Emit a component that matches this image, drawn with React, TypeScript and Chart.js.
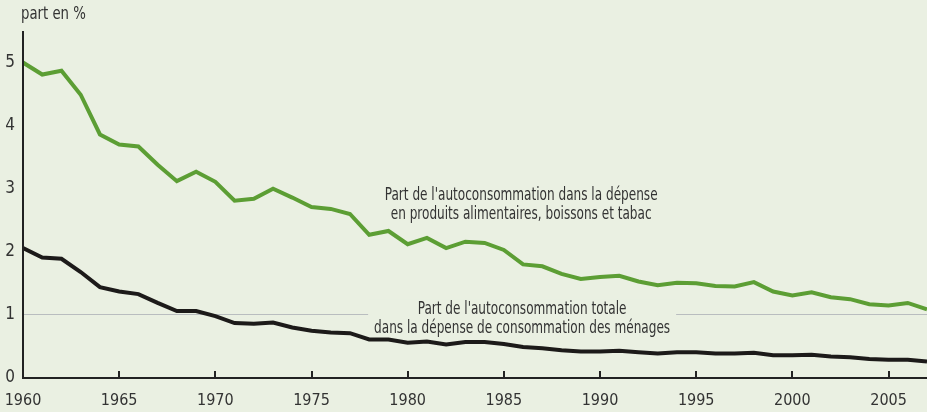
import React, { useEffect, useRef } from "react";
import { Chart, registerables } from "chart.js";

Chart.register(...registerables);

const years: number[] = [];
for (let y = 1960; y <= 2007; y++) years.push(y);

const alimentaire = [
  5.0, 4.81, 4.87, 4.49, 3.86, 3.7, 3.67, 3.38, 3.12, 3.27,
  3.11, 2.81, 2.84, 3.0, 2.86, 2.71, 2.68, 2.6, 2.27, 2.33,
  2.12, 2.22, 2.06, 2.16, 2.14, 2.03, 1.8, 1.77, 1.65, 1.57,
  1.6, 1.62, 1.53, 1.47, 1.51, 1.5, 1.46, 1.45, 1.52, 1.37,
  1.31, 1.36, 1.28, 1.25, 1.17, 1.15, 1.19, 1.09,
];

const totale = [
  2.06, 1.91, 1.89, 1.68, 1.44, 1.37, 1.33, 1.19, 1.06, 1.06,
  0.98, 0.87, 0.86, 0.88, 0.8, 0.75, 0.72, 0.71, 0.61, 0.61,
  0.56, 0.58, 0.53, 0.57, 0.57, 0.54, 0.49, 0.47, 0.44, 0.42,
  0.42, 0.43, 0.41, 0.39, 0.41, 0.41, 0.39, 0.39, 0.4, 0.36,
  0.36, 0.37, 0.34, 0.33, 0.3, 0.29, 0.29, 0.26,
];

const xTicks = [1960, 1965, 1970, 1975, 1980, 1985, 1990, 1995, 2000, 2005];
const yTicks = [0, 1, 2, 3, 4, 5];

const unitLabel = "part en %";
const labelAlim = ["Part de l'autoconsommation dans la dépense", "en produits alimentaires, boissons et tabac"];
const labelTot = ["Part de l'autoconsommation totale", "dans la dépense de consommation des ménages"];

const BG = "#eaf0e2";
const FONT = "'Liberation Sans Narrow', 'DejaVu Sans Condensed', 'Arial Narrow', sans-serif";
const TEXT = "#333333";

function narrowText(ctx: any, text: string, x: number, y: number, sx: number) {
  ctx.save();
  ctx.translate(x, y);
  ctx.scale(sx, 1);
  ctx.fillText(text, 0, 0);
  ctx.restore();
}

export default function App() {
  const ref = useRef<HTMLCanvasElement | null>(null);

  useEffect(() => {
    document.body.style.margin = "0";
    document.body.style.background = BG;
    const canvas = ref.current;
    if (!canvas) return;

    const decor = {
      id: "decor",
      beforeDraw(chart: any) {
        const { ctx } = chart;
        ctx.save();
        ctx.fillStyle = BG;
        ctx.fillRect(0, 0, chart.width, chart.height);
        ctx.restore();
      },
      beforeDatasetsDraw(chart: any) {
        const { ctx } = chart;
        const xs = chart.scales.x;
        const ys = chart.scales.y;
        ctx.save();
        const cx = xs.getPixelForValue(1985.95);
        const cy = ys.getPixelForValue(0.92);
        ctx.fillStyle = BG;
        ctx.fillRect(cx - 154, cy - 20, 308, 42);
        ctx.font = `17px ${FONT}`;
        ctx.fillStyle = TEXT;
        ctx.textAlign = "center";
        ctx.textBaseline = "middle";
        narrowText(ctx, labelTot[0], cx, cy - 10, 0.79);
        narrowText(ctx, labelTot[1], cx, cy + 9, 0.79);
        const ax = xs.getPixelForValue(1985.9);
        const ay = ys.getPixelForValue(2.73);
        narrowText(ctx, labelAlim[0], ax, ay - 10, 0.79);
        narrowText(ctx, labelAlim[1], ax, ay + 9, 0.79);
        ctx.restore();
      },
      afterDraw(chart: any) {
        const { ctx, chartArea } = chart;
        const xs = chart.scales.x;
        ctx.save();
        ctx.strokeStyle = "#222222";
        ctx.lineWidth = 2;
        ctx.beginPath();
        ctx.moveTo(chartArea.left, chartArea.top);
        ctx.lineTo(chartArea.left, chartArea.bottom);
        ctx.lineTo(chartArea.right, chartArea.bottom);
        for (const t of xTicks) {
          if (t === 1960) continue;
          const px = Math.round(xs.getPixelForValue(t));
          ctx.moveTo(px, chartArea.bottom);
          ctx.lineTo(px, chartArea.bottom - 7);
        }
        ctx.stroke();
        ctx.font = `18px ${FONT}`;
        ctx.fillStyle = TEXT;
        ctx.textAlign = "left";
        ctx.textBaseline = "middle";
        narrowText(ctx, unitLabel, 21, 14, 0.82);
        ctx.restore();
      },
    };

    const chart = new Chart(canvas, {
      type: "line",
      data: {
        datasets: [
          {
            label: labelAlim.join(" "),
            data: years.map((y, i) => ({ x: y, y: alimentaire[i] })),
            borderColor: "#5c9e34",
            borderWidth: 4,
            pointRadius: 0,
            tension: 0,
            borderJoinStyle: "miter",
            fill: false,
          },
          {
            label: labelTot.join(" "),
            data: years.map((y, i) => ({ x: y, y: totale[i] })),
            borderColor: "#1c1a19",
            borderWidth: 4,
            pointRadius: 0,
            tension: 0,
            borderJoinStyle: "miter",
            fill: false,
          },
        ],
      },
      options: {
        animation: false,
        responsive: false,
        maintainAspectRatio: false,
        layout: { padding: { top: 31, right: 0, left: 0, bottom: 0 } },
        plugins: { legend: { display: false }, tooltip: { enabled: false } },
        scales: {
          x: {
            type: "linear",
            min: 1960,
            max: 2007,
            afterBuildTicks: (s: any) => {
              s.ticks = xTicks.map((v) => ({ value: v }));
            },
            afterFit: (s: any) => {
              s.height = 34;
              s.paddingLeft = 0;
              s.paddingRight = 0;
            },
            border: { display: false },
            grid: { display: false, drawTicks: false },
            ticks: {
              autoSkip: false,
              maxRotation: 0,
              padding: 13,
              color: TEXT,
              font: { family: FONT, size: 16 },
              callback: (v: any) => String(v),
            },
          },
          y: {
            type: "linear",
            min: 0,
            max: 5.5,
            afterBuildTicks: (s: any) => {
              s.ticks = yTicks.map((v) => ({ value: v }));
            },
            afterFit: (s: any) => {
              s.width = 23;
              s.paddingTop = 0;
              s.paddingBottom = 0;
            },
            border: { display: false },
            grid: {
              drawTicks: false,
              color: (c: any) => (c.tick && c.tick.value === 1 ? "#b9bdbf" : "rgba(0,0,0,0)"),
              lineWidth: 1,
            },
            ticks: {
              padding: 8,
              color: TEXT,
              font: { family: FONT, size: 17 },
              callback: (v: any) => String(v),
            },
          },
        },
      },
      plugins: [decor],
    });

    return () => chart.destroy();
  }, []);

  return (
    <div style={{ width: 927, height: 412, background: BG }}>
      <canvas ref={ref} width={927} height={412} style={{ display: "block" }} />
    </div>
  );
}
